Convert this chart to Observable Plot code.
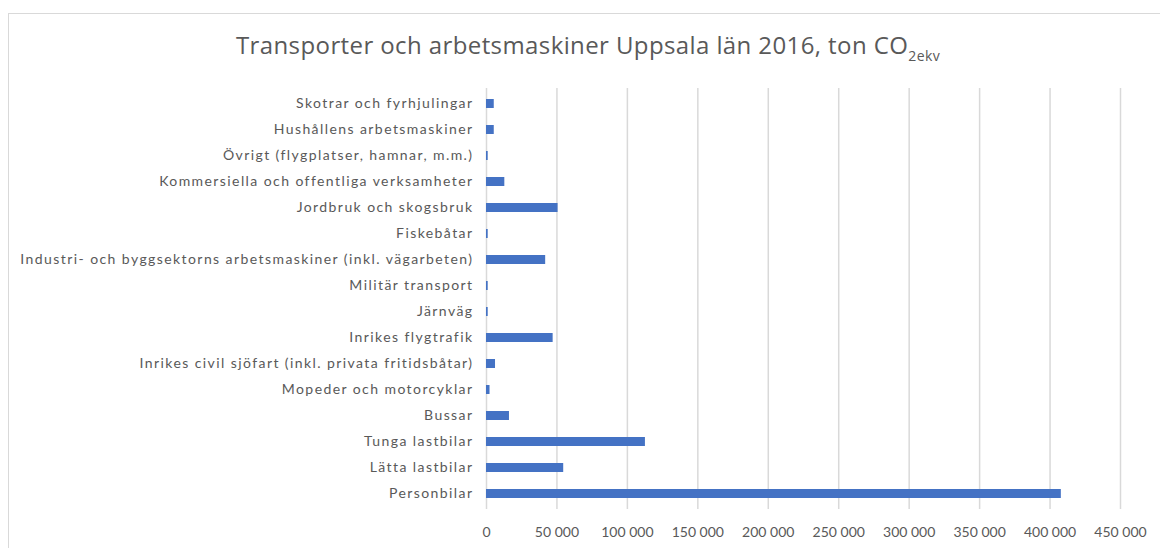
<!DOCTYPE html>
<html><head><meta charset="utf-8">
<script src="https://cdn.jsdelivr.net/npm/d3@7"></script>
<script src="https://cdn.jsdelivr.net/npm/@observablehq/plot@0.6"></script>
<style>
html,body{margin:0;padding:0;background:#fff;}
#frame{position:absolute;left:8px;top:13px;width:1160px;height:548px;border:1px solid #d9d9d9;box-sizing:border-box;}
#title{position:absolute;left:0;top:29px;width:1176px;text-align:center;font-family:"Open Sans",sans-serif;font-size:24px;line-height:32px;color:#595959;letter-spacing:0.4px;}
#title sub{font-size:14px;vertical-align:-7px;line-height:0;}
#chart{position:absolute;left:9px;top:75px;}
#chart g[aria-label="y-axis tick label"] text{letter-spacing:1.42px;}
</style></head>
<body>
<div id="frame"></div>
<div id="title">Transporter och arbetsmaskiner Uppsala län 2016, ton CO<sub>2ekv</sub></div>
<div id="chart"></div>
<script>
const categories = [
  "Personbilar",
  "Lätta lastbilar",
  "Tunga lastbilar",
  "Bussar",
  "Mopeder och motorcyklar",
  "Inrikes civil sjöfart (inkl. privata fritidsbåtar)",
  "Inrikes flygtrafik",
  "Järnväg",
  "Militär transport",
  "Industri- och byggsektorns arbetsmaskiner (inkl. vägarbeten)",
  "Fiskebåtar",
  "Jordbruk och skogsbruk",
  "Kommersiella och offentliga verksamheter",
  "Övrigt (flygplatser, hamnar, m.m.)",
  "Hushållens arbetsmaskiner",
  "Skotrar och fyrhjulingar"
];
const values = [408000, 54800, 112800, 16300, 2500, 6400, 47300, 1200, 1200, 42000, 1200, 50800, 13000, 1200, 5500, 5500];
const xTicks = [0, 50000, 100000, 150000, 200000, 250000, 300000, 350000, 400000, 450000];

const data = categories.map((c, i) => ({category: c, value: values[i]}));
const fmt = d => d3.format(",")(d).replace(/,/g, " ");

const chart = Plot.plot({
  width: 1151,
  height: 473,
  marginLeft: 477,
  marginRight: 40,
  marginTop: 13,
  marginBottom: 39,
  style: {fontFamily: "Lato, sans-serif", fontSize: "14px", color: "#595959", background: "transparent"},
  x: {domain: [0, 450000], ticks: xTicks, tickFormat: fmt, tickSize: 0, tickPadding: 18, label: null},
  y: {domain: categories.slice().reverse(), paddingInner: 0.65, paddingOuter: 0.32, tickSize: 0, tickPadding: 14, label: null},
  marks: [
    Plot.gridX(xTicks, {stroke: "#d9d9d9", strokeOpacity: 1, strokeWidth: 1.5}),
    Plot.barX(data, {y: "category", x: "value", fill: "#4472c4"}),
    Plot.axisY({tickSize: 0, tickPadding: 13, fontSize: 14, fill: "#595959"}),
    Plot.axisX({ticks: xTicks, tickFormat: fmt, tickSize: 0, tickPadding: 18, fontSize: 14, fill: "#595959"})
  ]
});
document.getElementById("chart").appendChild(chart);
</script>
</body></html>
